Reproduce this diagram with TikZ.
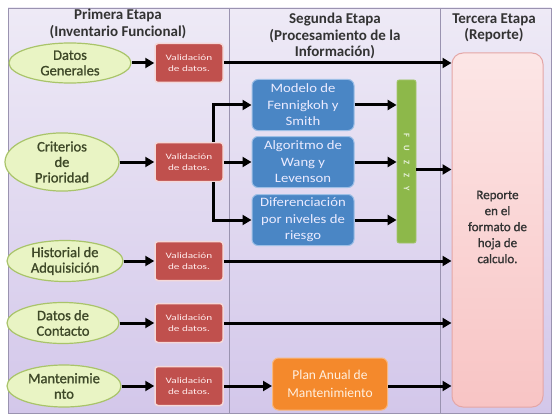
\documentclass[tikz,border=0pt]{standalone}
\usepackage{fontspec}
\setmainfont{Carlito}
\newfontfamily\widefont[FakeStretch=1.35]{Carlito}
\newfontfamily\midfont[FakeStretch=1.15]{Carlito}
\newfontfamily\heavyfont[FakeBold=1.2]{Carlito}
\usetikzlibrary{shapes.geometric,arrows.meta,positioning}
\definecolor{bgtop}{HTML}{EEEAF6}
\definecolor{bgbot}{HTML}{D3C7EA}
\definecolor{frame}{HTML}{9A93B0}
\definecolor{ellfill}{HTML}{E9F4C4}
\definecolor{ellline}{HTML}{A9C46A}
\definecolor{elltext}{HTML}{3E4828}
\definecolor{redfill}{HTML}{C0504D}
\definecolor{redline}{HTML}{F4D8D8}
\definecolor{bluefill}{HTML}{4A86C5}
\definecolor{blueline}{HTML}{9DBFE6}
\definecolor{fuzzfill}{HTML}{8DB84A}
\definecolor{pinktop}{HTML}{FCE6E6}
\definecolor{pinkbot}{HTML}{F8C4C4}
\definecolor{pinkline}{HTML}{E4A6A6}
\definecolor{orangefill}{HTML}{F4892C}
\definecolor{headtext}{HTML}{333333}
\tikzset{
  ell/.style={ellipse, draw=ellline, line width=1.2pt, fill=ellfill, text=elltext,
    minimum width=122pt, minimum height=40pt, inner sep=0pt, align=center,
    font=\heavyfont\fontsize{14.5}{15.5}\selectfont},
  valbox/.style={rectangle, rounded corners=3pt, draw=redline, line width=1.5pt, fill=redfill,
    text=white!92!red, minimum width=68pt, minimum height=39pt, inner sep=0pt, align=center,
    font=\widefont\fontsize{8.3}{11}\selectfont},
  procbox/.style={rectangle, rounded corners=6pt, draw=blueline, line width=1pt, fill=bluefill,
    text=white!92!blue, minimum width=102pt, minimum height=51pt, inner sep=0pt, align=center,
    font=\midfont\fontsize{12.8}{16.5}\selectfont},
  fuzzbox/.style={rectangle, rounded corners=2pt, draw=fuzzfill!80!white, line width=0.8pt, fill=fuzzfill,
    minimum width=19pt, minimum height=163pt, inner sep=0pt},
  repbox/.style={rectangle, rounded corners=11pt, draw=pinkline, line width=1pt, top color=pinktop,
    bottom color=pinkbot, minimum width=91pt, minimum height=354pt, inner sep=0pt},
  planbox/.style={rectangle, rounded corners=6pt, draw=orangefill!60!white, line width=1pt, fill=orangefill,
    text=white!88!orange, minimum width=115pt, minimum height=52pt, inner sep=0pt, align=center,
    font=\fontsize{13.5}{18}\selectfont},
  headtxt/.style={text=headtext, align=center, font=\bfseries\fontsize{15}{16.5}\selectfont},
  arr/.style={line width=3pt, -{Triangle[length=9pt,width=10pt]}},
  divider/.style={draw=frame, line width=0.8pt}
}
\begin{document}
\begin{tikzpicture}[x=1pt,y=-1pt]
\useasboundingbox (0,0) rectangle (560,420);
\fill[white] (0,0) rectangle (560,420);
\shade[top color=bgtop, bottom color=bgbot, draw=frame, line width=0.8pt] (8,8) rectangle (551,413);
\coordinate (d1t) at (229,8); \coordinate (d1b) at (229,413);
\coordinate (d2t) at (440,8); \coordinate (d2b) at (440,413);
\draw[divider] (d1t) -- (d1b);
\draw[divider] (d2t) -- (d2b);
% headers
\node[headtxt] (h1) at (118,24) {Primera Etapa\\(Inventario Funcional)};
\node[headtxt] (h2) at (335,36) {Segunda Etapa\\(Procesamiento de la\\Información)};
\node[headtxt] (h3) at (494,28) {Tercera Etapa\\(Reporte)};
% report
\node[repbox] (rep) at (497.5,230) {};
\node[text=headtext, align=center, font=\heavyfont\fontsize{13}{16}\selectfont] (reptxt) at (497.5,227)
  {Reporte\\en el\\formato de\\hoja de\\calculo.};
% ellipses
\node[ell] (e1) at (70,63) {Datos\\Generales};
\node[ell, minimum width=114pt, minimum height=57pt] (e2) at (62,162) {Criterios\\de\\Prioridad};
\node[ell, minimum width=116pt, minimum height=41pt] (e3) at (65,261) {Historial de\\Adquisición};
\node[ell, minimum width=112pt, minimum height=41pt] (e4) at (63,323) {Datos de\\Contacto};
\node[ell, minimum width=114pt, minimum height=42pt] (e5) at (64,386) {Mantenimie\\nto};
% validation boxes
\node[valbox] (v1) at (189,63) {Validación\\de datos.};
\node[valbox] (v2) at (189,162) {Validación\\de datos.};
\node[valbox] (v3) at (189,261) {Validación\\de datos.};
\node[valbox] (v4) at (189,323) {Validación\\de datos.};
\node[valbox] (v5) at (189,386) {Validación\\de datos.};
% processing boxes
\node[procbox] (m1) at (303,105) {Modelo de\\Fennigkoh y\\Smith};
\node[procbox] (m2) at (303,162) {Algoritmo de\\Wang y\\Levenson};
\node[procbox] (m3) at (303,220) {Diferenciación\\por niveles de\\riesgo};
\node[fuzzbox] (fz) at (406.5,161.5) {};
\node[rotate=-90, text=white!80!fuzzfill, font=\bfseries\fontsize{8.5}{9}\selectfont] (fzt) at (406.5,162)
  {F\hspace{9pt}U\hspace{9pt}Z\hspace{9pt}Z\hspace{9pt}Y};
\node[planbox] (plan) at (330,384) {Plan Anual de\\Mantenimiento};
% connectors
\coordinate (br) at (213,162);
\foreach \i in {1,...,5} \draw[arr] (e\i.east) -- (v\i.west);
\draw[arr] (v1.east) -- (v1.east -| rep.west);
\draw[arr] (v2.north -| br) |- (m1.west);
\draw[arr] (v2.east) -- (m2.west);
\draw[arr] (v2.south -| br) |- (m3.west);
\draw[arr] (m1.east) -- (m1.east -| fz.west);
\draw[arr] (m2.east) -- (m2.east -| fz.west);
\draw[arr] (m3.east) -- (m3.east -| fz.west);
\draw[arr] ([yshift=-8pt]fz.east) -- ([yshift=-8pt]fz.east -| rep.west);
\draw[arr] (v3.east) -- (v3.east -| rep.west);
\draw[arr] (v4.east) -- (v4.east -| rep.west);
\draw[arr] (v5.east) -- (v5.east -| plan.west);
\draw[arr] (plan.east |- v5.east) -- (v5.east -| rep.west);
\end{tikzpicture}
\end{document}
